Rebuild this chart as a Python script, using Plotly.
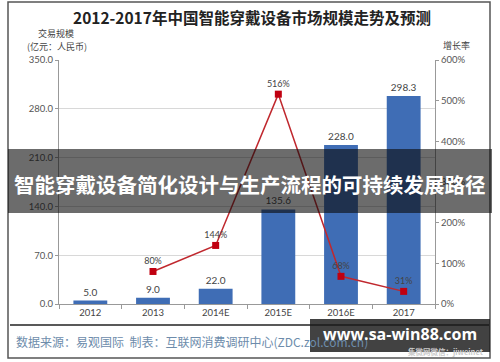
import plotly.graph_objects as go

categories = ["2012", "2013", "2014E", "2015E", "2016E", "2017"]
market_size = [5.0, 9.0, 22.0, 135.6, 228.0, 298.3]
growth_cats = ["2013", "2014E", "2015E", "2016E", "2017"]
growth_rate = [80, 144, 516, 68, 31]
left_ticks = [0, 70, 140, 210, 280, 350]
right_ticks = [0, 100, 200, 300, 400, 500, 600]

W, H = 500, 362
L, R, T, B = 59, 435, 60, 304

def px(x):
    return (x - L) / (R - L)

def py(y):
    return (B - y) / (B - T)

CJK = "Noto Sans CJK SC"
NUM = "Lato, Noto Sans CJK SC"

fig = go.Figure()
fig.add_trace(go.Bar(
    x=categories, y=market_size, width=0.54,
    marker=dict(color="#3f6db5", line=dict(width=0)),
    text=[f"{v:.1f}" for v in market_size], textposition="outside",
    textfont=dict(size=10, color="#444", family=NUM),
    cliponaxis=False, yaxis="y", showlegend=False,
))
fig.add_trace(go.Scatter(
    x=growth_cats, y=growth_rate, yaxis="y2",
    mode="lines+markers+text",
    line=dict(color="#c0282e", width=1.5),
    marker=dict(symbol="square", size=7, color="#c00010"),
    text=[f"{v}%" for v in growth_rate], textposition="top center",
    textfont=dict(size=9, color="#444", family=NUM),
    cliponaxis=False, showlegend=False,
))

shapes = [
    dict(type="rect", xref="paper", yref="paper", x0=px(8), x1=px(490), y0=py(2), y1=py(358),
         line=dict(color="#555", width=1.5), layer="above"),
    dict(type="line", xref="paper", yref="paper", x0=px(10), x1=px(489), y0=py(325), y1=py(325),
         line=dict(color="#222", width=1.5), layer="above"),
    dict(type="rect", xref="paper", yref="paper", x0=px(8), x1=px(492), y0=py(149), y1=py(213),
         fillcolor="rgba(10,10,10,0.6)", line=dict(width=0), layer="above"),
    dict(type="rect", xref="paper", yref="paper", x0=px(310), x1=px(490), y0=py(319), y1=py(352),
         fillcolor="rgba(25,25,25,0.82)", line=dict(width=0), layer="above"),
]

annotations = [
    dict(text="<b>2012-2017年中国智能穿戴设备市场规模走势及预测</b>", x=px(252), y=py(17),
         font=dict(size=15.5, color="#222", family=CJK)),
    dict(text="交易规模", x=px(56), y=py(33), font=dict(size=9, color="#444", family=CJK)),
    dict(text="(亿元：人民币)", x=px(57), y=py(46), font=dict(size=9, color="#444", family=CJK)),
    dict(text="增长率", x=px(456), y=py(45), font=dict(size=9, color="#444", family=CJK)),
    dict(text="数据来源：易观国际  制表：互联网消费调研中心(ZDC.zol.com.cn)", x=px(14), y=py(341),
         xanchor="left", font=dict(size=12, color="#6d8cab", family=CJK)),
    dict(text="<b>集微网微信：jiweinet</b>", x=px(486), y=py(351), xanchor="right",
         font=dict(size=7.5, color="#ccc", family=CJK)),
    dict(text="<b>智能穿戴设备简化设计与生产流程的可持续发展路径</b>", x=px(250), y=py(184),
         font=dict(size=20.5, color="white", family=CJK)),
    dict(text="<b>www.sa-win88.com</b>", x=px(400), y=py(334),
         font=dict(size=16, color="white", family="Open Sans")),
]
for a in annotations:
    a.update(xref="paper", yref="paper", showarrow=False)
    a.setdefault("xanchor", "center")
    a.setdefault("yanchor", "middle")

fig.update_layout(
    width=W, height=H,
    margin=dict(l=L, r=W - R, t=T, b=H - B),
    paper_bgcolor="white", plot_bgcolor="white",
    font=dict(family=NUM, size=10, color="#444"),
    bargap=0.46,
    xaxis=dict(type="category", showline=True, linecolor="#999", linewidth=1,
               ticks="outside", tickson="boundaries", ticklen=4, tickcolor="#999",
               tickfont=dict(size=9.5, color="#444"), showgrid=False),
    yaxis=dict(range=[0, 350], tickvals=left_ticks, ticktext=[f"{v:.1f}" for v in left_ticks],
               showline=True, linecolor="#999", linewidth=1, ticks="outside", ticklen=3,
               tickcolor="#999", gridcolor="#d8d8d8", gridwidth=1, zeroline=False,
               tickfont=dict(size=9.5, color="#555")),
    yaxis2=dict(range=[0, 600], tickvals=right_ticks, ticktext=[f"{v}%" for v in right_ticks],
                overlaying="y", side="right", showline=True, linecolor="#999", linewidth=1,
                ticks="outside", ticklen=3, tickcolor="#999", showgrid=False, zeroline=False,
                tickfont=dict(size=9.5, color="#555")),
    shapes=shapes, annotations=annotations,
)

fig.write_html("out.html", config={"displayModeBar": False},
               post_script="document.body.style.margin='0';document.body.style.overflow='hidden';")
